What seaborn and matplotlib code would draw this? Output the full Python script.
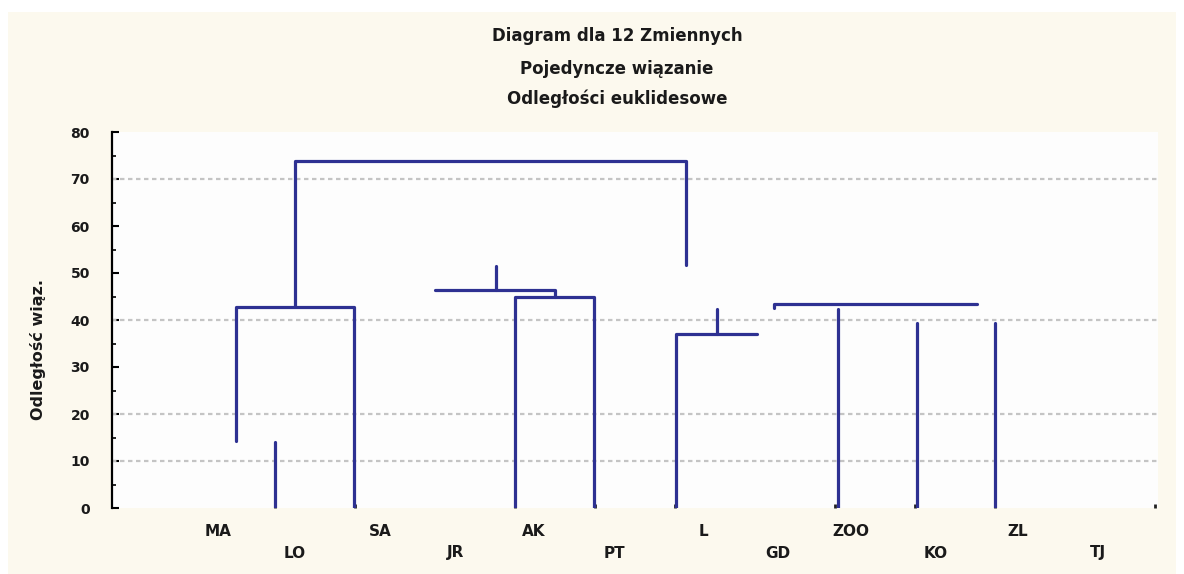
import numpy as np
import pandas as pd
import matplotlib
matplotlib.use("Agg")
import matplotlib.pyplot as plt
from matplotlib.patches import Rectangle
import seaborn as sns

# ---- data ----
title_lines = ["Diagram dla 12 Zmiennych", "Pojedyncze wiązanie", "Odległości euklidesowe"]
y_label = "Odległość wiąz."
var_labels = ["MA", "LO", "SA", "JR", "AK", "PT", "L", "GD", "ZOO", "KO", "ZL", "TJ"]
label_pos = [0.29, 1.25, 2.31, 3.25, 4.23, 5.24, 6.36, 7.28, 8.20, 9.26, 10.28, 11.29]
y_ticks = [0, 10, 20, 30, 40, 50, 60, 70, 80]
grid_levels = [10, 20, 40, 70]
leaf_ticks = [1, 2, 4, 5, 6, 8, 9, 10, 12]

# dendrogram links (polylines): x in leaf units, y in linkage distance
link_x = [
    [1.25, 1.25, 6.14, 6.14],
    [0.51, 0.51, 1.99, 1.99],
    [1.0, 1.0],
    [3.0, 4.5, 4.5],
    [3.76, 3.76],
    [4.0, 4.0, 4.99, 4.99],
    [6.53, 6.53],
    [7.03, 6.01, 6.01],
    [7.24, 7.24, 9.78],
    [8.04, 8.04],
    [9.03, 9.03],
    [10.0, 10.0],
]
link_y = [
    [43.0, 73.8, 73.8, 51.7],
    [14.3, 42.8, 42.8, 0.0],
    [14.0, 0.0],
    [46.4, 46.4, 44.9],
    [51.5, 46.4],
    [0.0, 44.9, 44.9, 0.0],
    [42.3, 37.0],
    [37.0, 37.0, 0.0],
    [42.6, 43.4, 43.4],
    [42.3, 0.0],
    [39.4, 0.0],
    [39.4, 0.0],
]

rows = []
for i, (xs, ys) in enumerate(zip(link_x, link_y)):
    for j, (x, y) in enumerate(zip(xs, ys)):
        rows.append({"seg": i, "order": j, "x": x, "y": y})
df = pd.DataFrame(rows)

# ---- style ----
sns.set_theme(style="white")
plt.rcParams["font.family"] = ["DejaVu Sans"]

TXT = "#1a1a1a"
W, H = 1184, 574
fig = plt.figure(figsize=(W / 100, H / 100), dpi=100, facecolor="white")
fig.patches.append(Rectangle((8 / W, 0), (W - 16) / W, (H - 12) / H,
                             transform=fig.transFigure, facecolor="#fcf9ee",
                             edgecolor="none", zorder=-10))

ax = fig.add_axes([112 / W, 1 - 508 / H, (1158 - 112) / W, (508 - 132) / H])
ax.set_facecolor("#fdfdfd")

for lv in grid_levels:
    ax.axhline(lv, color="#c4c4c4", lw=1.6, linestyle=(0, (2, 1.6)), zorder=1)

sns.lineplot(data=df, x="x", y="y", units="seg", estimator=None, sort=False,
             color="#2e3192", lw=2.3, ax=ax, legend=False, zorder=3)

ax.set_xlim(-1.04, 12.04)
ax.set_ylim(0, 80)

# spines
for s in ["top", "right", "bottom"]:
    ax.spines[s].set_visible(False)
ax.spines["left"].set_color("black")
ax.spines["left"].set_linewidth(1.6)

# y ticks
ax.set_yticks(y_ticks)
ax.set_yticklabels([str(v) for v in y_ticks], fontsize=10, fontweight="bold", color=TXT)
ax.set_yticks(np.arange(0, 81, 5), minor=True)
ax.tick_params(axis="y", which="major", direction="in", length=5, width=1.5,
               color="black", pad=16, left=True)
ax.tick_params(axis="y", which="minor", direction="in", length=3, width=1.2,
               color="black", left=True)

# x ticks: small marks at leaf bottoms, labels drawn in two rows
ax.set_xticks(leaf_ticks)
ax.set_xticklabels([])
ax.tick_params(axis="x", which="major", direction="in", length=3, width=2,
               color="#222222", bottom=True)
for k, (name, p) in enumerate(zip(var_labels, label_pos)):
    off = -24 if k % 2 == 0 else -45
    ax.annotate(name, xy=(p, 0), xycoords=("data", "axes fraction"),
                xytext=(0, off * 0.72), textcoords="offset points",
                ha="center", va="center", fontsize=11, fontweight="bold",
                color=TXT, annotation_clip=False)

ax.set_xlabel("")
ax.set_ylabel("")

# titles
for yy, t in zip([36, 69, 99], title_lines):
    fig.text(617 / W, 1 - yy / H, t, ha="center", va="center",
             fontsize=12, fontweight="bold", color=TXT)

fig.text(38 / W, 1 - 350 / H, y_label, rotation=90, ha="center", va="center",
         fontsize=11.5, fontweight="bold", color=TXT)

fig.savefig("out.png", dpi=100, facecolor=fig.get_facecolor())
